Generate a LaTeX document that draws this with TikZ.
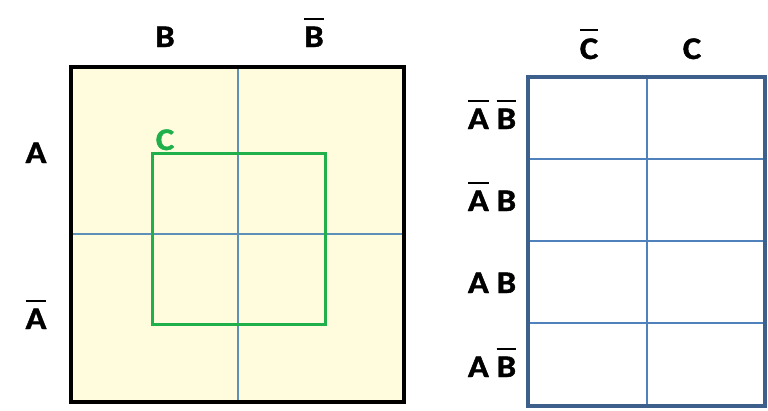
\documentclass[tikz,border=0pt]{standalone}
\usepackage{fontspec}
\setmainfont{Carlito}
\newfontfamily\lblfont{Carlito}[FakeStretch=1.1, FakeBold=1.3]
\usepackage{tikz}
\usetikzlibrary{positioning, calc}
\definecolor{vennyellow}{HTML}{FEFCDC}
\definecolor{gridblue}{HTML}{4F81BD}
\definecolor{frameblue}{HTML}{3D5F8C}
\definecolor{divblue}{HTML}{5E90B8}
\definecolor{cgreen}{HTML}{1FAF4B}
\newcommand{\nbar}[1]{\leavevmode\vbox{\hrule height 2pt\kern 7pt\hbox{#1}}}

\begin{document}
\begin{tikzpicture}[x=1pt, y=-1pt,
  lbl/.style={font=\lblfont\fontsize{31.5}{31.5}\selectfont\bfseries, inner sep=0pt, anchor=base},
  divline/.style={draw=divblue, line width=2.2pt},
  cellline/.style={draw=gridblue, line width=2.2pt}]
\useasboundingbox (0,0) rectangle (768,410);

% Venn picture
\coordinate (vtl) at (71,67);
\coordinate (vbr) at (404,402);
\fill[vennyellow] (vtl) rectangle (vbr);
\draw[divline] (238,67) -- (238,402);
\draw[divline] (71,234) -- (404,234);
\draw[draw=cgreen, line width=3pt] (152,153) rectangle (325,324);
\draw[line width=3.4pt] (vtl) rectangle (vbr);
\node[lbl] (colB) at (165,47) {B};
\node[lbl] (colnB) at (314,47) {\nbar{B}};
\node[lbl] (rowA) at (36,163) {A};
\node[lbl] (rownA) at (36,329) {\nbar{A}};
\node[lbl, text=cgreen] (labC) at (165,150) {C};

% map
\coordinate (mtl) at (528,77);
\coordinate (mbr) at (765,406);
\draw[cellline] (647,77) -- (647,406);
\foreach \yy in {159,241,323}
  \draw[cellline] (528,\yy) -- (765,\yy);
\draw[draw=frameblue, line width=4.4pt] (mtl) rectangle (mbr);
\node[lbl] (colnC) at (589,59) {\nbar{C}};
\node[lbl] (colC) at (692,59) {C};
\node[lbl] (r1) at (492,129) {\nbar{A} \nbar{B}};
\node[lbl] (r2) at (492,211) {\nbar{A} B};
\node[lbl] (r3) at (492,293) {A B};
\node[lbl] (r4) at (492,377) {A \nbar{B}};
\end{tikzpicture}
\end{document}
